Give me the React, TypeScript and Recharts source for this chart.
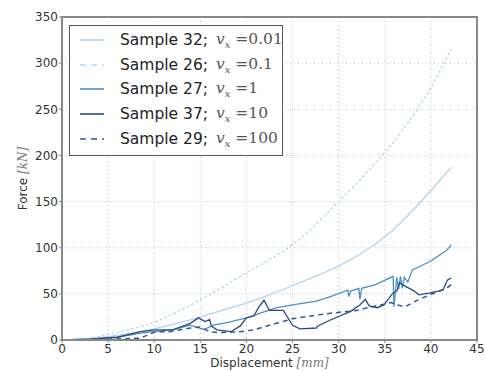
import React from "react";
import {
  CartesianGrid,
  Line,
  LineChart,
  ReferenceArea,
  XAxis,
  YAxis,
} from "recharts";

// displacement [mm] / force [kN]
const s32X = [0, 2, 4, 6, 8, 10, 12, 14, 16, 18, 20, 22, 24, 26, 28, 30, 32, 34, 36, 38, 40, 42.2];
const s32Y = [0, 1, 2.5, 5, 8, 12, 17, 22, 28, 34, 40, 47, 55, 63, 71, 80, 91, 104, 120, 140, 162, 187];

const s26X = [0, 2, 4, 6, 8, 10, 12, 14, 16, 18, 20, 22, 24, 26, 28, 30, 32, 34, 36, 38, 40, 42.2];
const s26Y = [0, 1, 4, 8, 13, 19, 28, 38, 49, 61, 73, 84, 96, 111, 130, 150, 170, 192, 215, 242, 273, 315];

const s27X = [0, 3, 6, 8.5, 10, 12, 13.9, 15, 15.5, 16.4, 18, 20, 21.5, 23.3, 25, 27.6, 29.1, 31, 31.1, 31.3, 32.2, 32.3, 32.5, 34, 35.9, 36, 36.3, 36.5, 36.7, 36.9, 37.1, 37.5, 38, 39.9, 41.7, 42.2];
const s27Y = [0, 1, 3, 7.5, 9, 11, 16, 12.6, 11.6, 16, 19, 24, 29, 35, 38, 42, 47, 54, 47, 53, 56, 44, 56, 60, 69, 36, 68, 55, 69, 56, 68, 63, 76, 85, 97, 103];

const s37X = [0, 3, 6, 8.5, 10, 12, 13.9, 14.8, 15.5, 16, 16.2, 16.8, 18.3, 19.3, 20, 20.8, 21.3, 21.9, 22.5, 24, 25, 25.8, 27.6, 27.7, 29.1, 31.3, 32.3, 32.9, 33.3, 34.2, 34.9, 35.9, 36.3, 36.6, 36.9, 38.2, 38.7, 39.9, 41.3, 41.8, 42.2];
const s37Y = [0, 1, 3, 9, 11, 11, 18, 24, 20, 22, 15, 11, 9, 15, 24, 26, 35, 43, 32, 32, 16, 12, 13, 15, 21.7, 31, 38, 44, 37, 35, 38, 51, 53, 62, 60, 53, 49, 51, 54, 65, 67];

const s29X = [0, 4, 8.5, 10.1, 11.7, 13.9, 15, 16, 17.1, 19.3, 20.8, 22.5, 25, 27.6, 29.1, 31.9, 34.5, 35.7, 36.3, 37.2, 38.5, 39.9, 41.7, 42.2];
const s29Y = [0, 0.5, 2, 9, 9, 13, 14, 9, 8, 9, 11, 16, 23, 27, 29, 32, 38, 40.5, 38, 36, 43, 49, 56, 60];

const xTicks = [0, 5, 10, 15, 20, 25, 30, 35, 40, 45];
const yTicks = [0, 50, 100, 150, 200, 250, 300, 350];

const sampleNames = ["Sample 32;", "Sample 26;", "Sample 27;", "Sample 37;", "Sample 29;"];
const speeds = ["0.01", "0.1", "1", "10", "100"];

const zip = (xs: number[], ys: number[]) => xs.map((x, i) => ({ x, y: ys[i] }));

const series = [
  { data: zip(s32X, s32Y), color: "#b3d3ea", dash: undefined, width: 1.3 },
  { data: zip(s26X, s26Y), color: "#b9d8f0", dash: "3 2", width: 1.3 },
  { data: zip(s27X, s27Y), color: "#4a8fc7", dash: undefined, width: 1.3 },
  { data: zip(s37X, s37Y), color: "#2c4b82", dash: undefined, width: 1.3 },
  { data: zip(s29X, s29Y), color: "#35579a", dash: "5 4", width: 1.5 },
];

const SANS = "DejaVu Sans, Verdana, sans-serif";
const SERIF = "DejaVu Serif, serif";

function LegendBox() {
  return (
    <div
      style={{
        position: "absolute",
        left: 69,
        top: 25,
        border: "1.5px solid #555",
        background: "#fff",
        width: 214,
        height: 131,
        boxSizing: "border-box",
      }}
    >
      {sampleNames.map((name, i) => (
        <div
          key={name}
          style={{
            position: "absolute",
            left: 0,
            top: 2 + i * 24.7,
            height: 24,
            display: "flex",
            alignItems: "center",
            whiteSpace: "nowrap",
          }}
        >
          <svg width={40} height={10} style={{ marginLeft: 10 }}>
            <line
              x1={0}
              x2={24}
              y1={5}
              y2={5}
              stroke={series[i].color}
              strokeWidth={1.6}
              strokeDasharray={series[i].dash ? "6 5" : undefined}
            />
          </svg>
          <span style={{ fontFamily: SANS, fontSize: 15.5, color: "#222" }}>{name}</span>
          <span style={{ fontFamily: SERIF, fontSize: 15.5, color: "#555", marginLeft: 8 }}>
            <i>v</i>
            <sub style={{ fontSize: 10 }}>
              <i>x</i>
            </sub>
            {" ="}
            {speeds[i]}
          </span>
        </div>
      ))}
    </div>
  );
}

function XLabel(props: any) {
  const { viewBox } = props;
  const cx = viewBox.x + viewBox.width / 2;
  return (
    <text x={cx} y={367} textAnchor="middle" fontFamily={SANS} fontSize={12} fill="#333">
      Displacement{" "}
      <tspan fontFamily={SERIF} fontStyle="italic" fill="#777">
        [mm]
      </tspan>
    </text>
  );
}

function YLabel(props: any) {
  const { viewBox } = props;
  const cy = viewBox.y + viewBox.height / 2;
  return (
    <text
      x={27}
      y={cy}
      transform={`rotate(-90 27 ${cy})`}
      textAnchor="middle"
      fontFamily={SANS}
      fontSize={12}
      fill="#333"
    >
      Force{" "}
      <tspan fontFamily={SERIF} fontStyle="italic" fill="#777">
        [kN]
      </tspan>
    </text>
  );
}

export default function App() {
  return (
    <div style={{ position: "absolute", left: 0, top: 0, width: 485, height: 371, background: "#fff" }}>
      <LineChart width={485} height={371} margin={{ top: 17, right: 8, left: 0, bottom: 0 }}>
        <CartesianGrid stroke="#bbb" strokeDasharray="1 3" />
        <XAxis
          dataKey="x"
          type="number"
          domain={[0, 45]}
          ticks={xTicks}
          height={31}
          allowDuplicatedCategory={false}
          axisLine={{ stroke: "#888", strokeWidth: 2 }}
          tickLine={{ stroke: "#888" }}
          tickSize={3}
          tickMargin={1}
          tick={{ fontFamily: SANS, fontSize: 12, fill: "#333" }}
          label={<XLabel />}
        />
        <YAxis
          dataKey="y"
          type="number"
          domain={[0, 350]}
          ticks={yTicks}
          width={62}
          axisLine={{ stroke: "#888", strokeWidth: 2 }}
          tickLine={{ stroke: "#888" }}
          tickSize={3}
          tickMargin={1}
          tick={{ fontFamily: SANS, fontSize: 12, fill: "#333" }}
          label={<YLabel />}
        />
        <ReferenceArea x1={0} x2={45} y1={0} y2={350} fill="none" stroke="#888" strokeWidth={2} ifOverflow="visible" />
        {series.map((s, i) => (
          <Line
            key={sampleNames[i]}
            data={s.data}
            dataKey="y"
            name={sampleNames[i]}
            type="linear"
            stroke={s.color}
            strokeWidth={s.width}
            strokeDasharray={s.dash}
            dot={false}
            isAnimationActive={false}
          />
        ))}
      </LineChart>
      <LegendBox />
    </div>
  );
}
